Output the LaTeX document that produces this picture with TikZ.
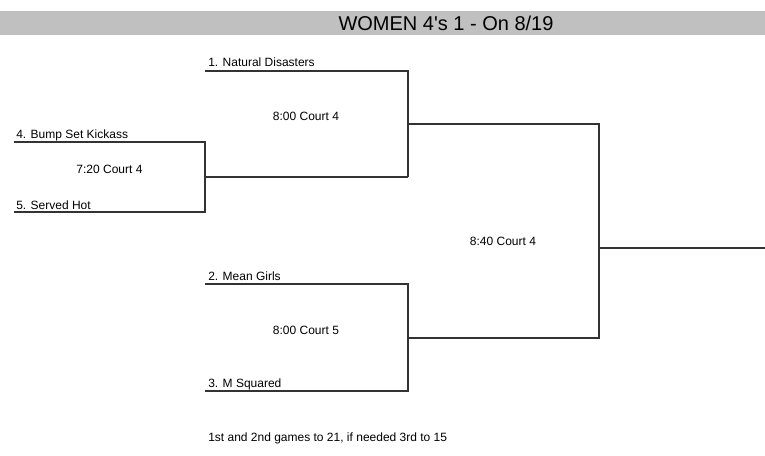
\documentclass[tikz,border=0pt]{standalone}
\usepackage{fontspec}
\setmainfont{Liberation Sans}
\definecolor{band}{HTML}{C0C0C0}
\definecolor{ln}{HTML}{333333}
\begin{document}
\begin{tikzpicture}[x=0.75pt,y=-0.75pt,
  br/.style={draw=ln,line width=0.8pt},
  team/.style={anchor=base west,inner sep=0pt,font=\fontsize{9}{10}\selectfont},
  game/.style={anchor=center,inner sep=0pt,font=\fontsize{9}{10}\selectfont},
  title/.style={anchor=center,inner sep=0pt,font=\fontsize{15}{16}\selectfont}]
\useasboundingbox (0,0) rectangle (765,455);
\fill[band] (0,11) rectangle (765,35);
\node[title] (ttl) at (446,23) {WOMEN 4\textquotesingle s 1 - On 8/19};
% coordinates
\coordinate (b4s) at (14,142);  \coordinate (b4e) at (205,142);
\coordinate (b5s) at (14,212);  \coordinate (b5e) at (205,212);
\coordinate (w1s) at (205,177); \coordinate (w1e) at (408,177);
\coordinate (n1s) at (205,71);  \coordinate (n1e) at (408,71);
\coordinate (s1s) at (408,124); \coordinate (s1e) at (599,124);
\coordinate (m2s) at (205,284); \coordinate (m2e) at (408,284);
\coordinate (m3s) at (205,391); \coordinate (m3e) at (408,391);
\coordinate (s2s) at (408,338); \coordinate (s2e) at (599,338);
\coordinate (fs) at (599,248);  \coordinate (fe) at (765,248);
% bracket lines
\draw[br] (b4s) -- (b4e) -- (b5e) -- (b5s);
\draw[br] (w1s) -- (w1e);
\draw[br] (n1s) -- (n1e) -- (w1e);
\draw[br] (s1s) -- (s1e) -- (s2e) -- (s2s);
\draw[br] (m2s) -- (m2e) -- (m3e) -- (m3s);
\draw[br] (fs) -- (fe);
% labels
\node[team] (t1) at (208,66.5) {1. Natural Disasters};
\node[team] (t4) at (16,138) {4. Bump Set Kickass};
\node[team] (t5) at (16,209) {5. Served Hot};
\node[team] (t2) at (208,280.5) {2. Mean Girls};
\node[team] (t3) at (208,387.5) {3. M Squared};
\node[game] (g1) at (109.5,169.5) {7:20 Court 4};
\node[game] (g2) at (306,116.5) {8:00 Court 4};
\node[game] (g3) at (306,330.5) {8:00 Court 5};
\node[game] (g4) at (503,241.5) {8:40 Court 4};
\node[team] (ft) at (208,441) {1st and 2nd games to 21, if needed 3rd to 15};
\end{tikzpicture}
\end{document}
